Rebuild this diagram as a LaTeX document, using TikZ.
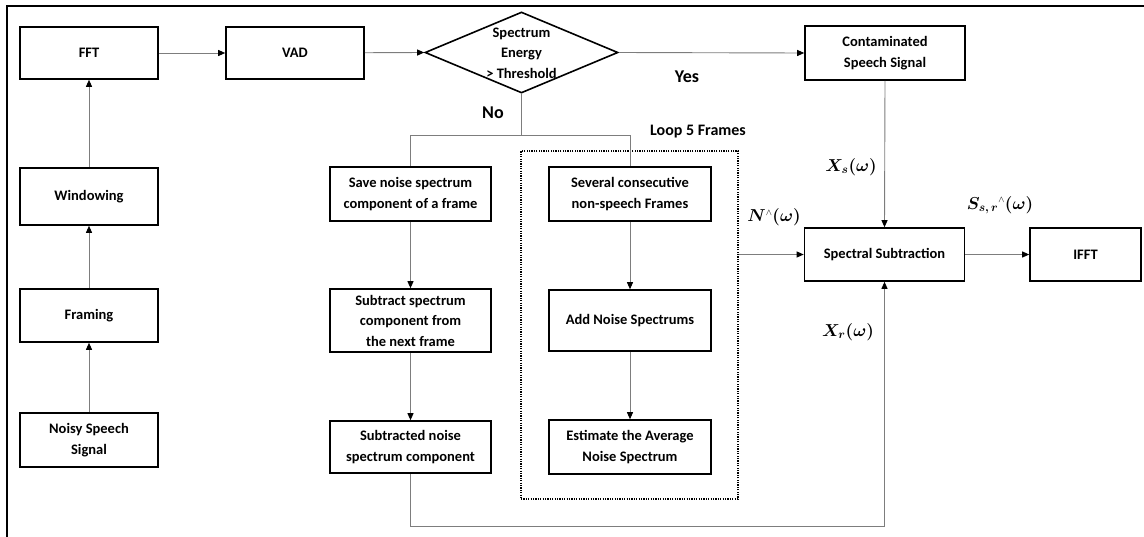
\documentclass[tikz,border=0pt]{standalone}
\usepackage{fontspec}
\setmainfont{Carlito}
\usepackage{amsmath}
\usepackage{bm}
\usetikzlibrary{arrows.meta,shapes.geometric}
\definecolor{lg}{RGB}{125,125,125}
\begin{document}
\begin{tikzpicture}[x=1pt,y=-1pt,
  box/.style={draw=black, line width=1.6pt, inner sep=0pt, align=center,
    font=\fontsize{14.5}{20.5}\selectfont\bfseries},
  conn/.style={draw=lg, line width=0.9pt},
  arr/.style={conn, -{Triangle[length=7pt,width=6pt,color=black]}},
  word/.style={inner sep=0pt, font=\fontsize{18}{20}\selectfont\bfseries},
  mathlbl/.style={inner sep=0pt, font=\fontsize{18}{20}\selectfont}]
\useasboundingbox (0,0) rectangle (1144,536);
% outer frame
\draw[line width=1.6pt] (7,540) -- (7,6) -- (1150,6);
% left column
\node[box, minimum width=138pt, minimum height=52pt] (fft) at (89,53) {FFT};
\node[box, minimum width=138pt, minimum height=57pt] (win) at (89,196.5) {Windowing};
\node[box, minimum width=138pt, minimum height=53pt] (fram) at (89,315.5) {Framing};
\node[box, minimum width=138pt, minimum height=54pt] (noisy) at (89,440) {Noisy Speech\\Signal};
% top row
\node[box, minimum width=138pt, minimum height=52pt] (vad) at (295,53) {VAD};
\node[draw=black, line width=1.6pt, diamond, inner sep=0pt, minimum width=193pt, minimum height=81pt] (dec) at (521.5,52.5) {};
\node[inner sep=0pt, align=center, font=\fontsize{14.5}{20.5}\selectfont\bfseries] (dectext) at (521.5,53) {Spectrum\\Energy\\> Threshold};
\node[box, minimum width=160pt, minimum height=54pt] (cont) at (885,53) {Contaminated\\Speech Signal};
% middle columns
\node[box, minimum width=161pt, minimum height=54pt] (save) at (410.5,194) {Save noise spectrum\\component of a frame};
\node[box, minimum width=161pt, minimum height=63pt] (sub) at (410.5,320.5) {Subtract spectrum\\component from\\the next frame};
\node[box, minimum width=161pt, minimum height=52pt] (subd) at (410.5,447) {Subtracted noise\\spectrum component};
\node[box, minimum width=162pt, minimum height=54pt] (sev) at (630,194) {Several consecutive\\non-speech Frames};
\node[box, minimum width=162pt, minimum height=61pt] (add) at (630,320.5) {Add Noise Spectrums};
\node[box, minimum width=162pt, minimum height=54pt] (est) at (630,447) {Estimate the Average\\Noise Spectrum};
\node[draw=black, line width=1.3pt, dash pattern=on 1.2pt off 1.2pt, inner sep=0pt,
      minimum width=217pt, minimum height=348pt] (loop) at (629.5,325) {};
% right part
\node[box, minimum width=160pt, minimum height=53pt] (spec) at (884.5,254.5) {Spectral Subtraction};
\node[box, minimum width=111pt, minimum height=53pt] (ifft) at (1085.5,254.5) {IFFT};
% labels
\node[word] (yes) at (687,77) {Yes};
\node[word] (no) at (493,113) {No};
\node[inner sep=0pt, font=\fontsize{16}{18}\selectfont\bfseries] (looplbl) at (698,132) {Loop 5 Frames};
\node[mathlbl] (nlbl) at (774,217) {$\bm{N}^{\scriptscriptstyle\wedge}\bm{(\omega)}$};
\node[mathlbl] (xslbl) at (851,167) {$\bm{X_s(\omega)}$};
\node[mathlbl] (xrlbl) at (848,332) {$\bm{X_r(\omega)}$};
\node[mathlbl] (slbl) at (1000,205) {$\bm{S}_{\bm{s,\,r}}{}^{\scriptscriptstyle\wedge}\bm{(\omega)}$};
% connectors
\draw[arr] (noisy) -- (fram);
\draw[arr] (fram) -- (win);
\draw[arr] (win) -- (fft);
\draw[arr] (fft) -- (vad);
\draw[arr] (vad) -- (dec.west);
\draw[arr] (dec.east) -- (cont.west);
\coordinate (br) at (521.5,135);
\draw[conn] (dec.south) -- (br);
\draw[conn] (save.north) -- (save.north |- br) -- (sev.north |- br) -- (sev.north);
\draw[arr] (save) -- (sub);
\draw[arr] (sub) -- (subd);
\draw[arr] (sev) -- (add);
\draw[arr] (add) -- (est);
\draw[arr] (cont.south) -- (spec.north);
\draw[arr] (loop.east |- spec.west) -- (spec.west);
\draw[arr] (spec) -- (ifft);
\coordinate (bot) at (410.5,526);
\draw[arr] (subd.south) -- (bot) -- (bot -| spec.south) -- (spec.south);
\end{tikzpicture}
\end{document}
